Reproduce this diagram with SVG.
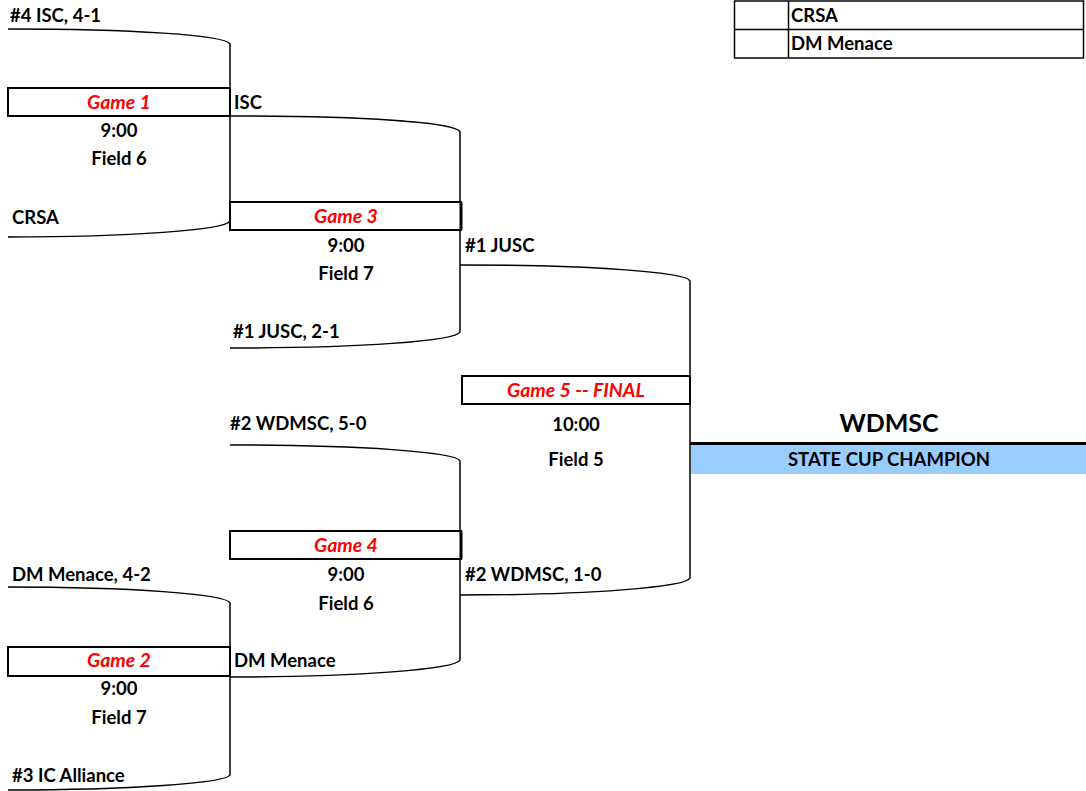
<svg xmlns="http://www.w3.org/2000/svg" width="1086" height="791" viewBox="0 0 1086 791">
<style>
text{font-family:Lato,"Open Sans","Liberation Sans",sans-serif;font-weight:bold;font-size:18.5px;fill:#000}
.c{text-anchor:middle}
.g{fill:#ff0000;font-style:italic;font-size:19.5px}
.br{fill:none;stroke:#000;stroke-width:1.5}
.box{fill:#fff;stroke:#000;stroke-width:2}
</style>
<rect width="1086" height="791" fill="#fff"/>
<g id="connectors">
<path class="br" d="M8,29 C130,29 226,35 230,44 L230,221 C226,230 130,237 8,237"/>
<path class="br" d="M230,116 C360,116 456,122 460,132 L460,332 C456,341 360,348 230,348"/>
<path class="br" d="M460,265 C590,265 686,272 690,281 L690,578 C686,587 590,595 460,595"/>
<path class="br" d="M230,445 C360,445 456,452 460,461 L460,660 C456,669 360,677 230,677"/>
<path class="br" d="M8,587 C130,587 226,594 230,603 L230,775 C226,783 130,790 8,790"/>
</g>
<g id="game1">
<rect class="box" x="8" y="88" width="222" height="28"/>
<text class="c g" x="119" y="109">Game 1</text>
<text class="c" x="119" y="137">9:00</text>
<text class="c" x="119" y="165">Field 6</text>
</g>
<g id="game3">
<rect class="box" x="230" y="202" width="231" height="28"/>
<line x1="461" y1="202" x2="461" y2="230" stroke="#000" stroke-width="3"/>
<text class="c g" x="346" y="223">Game 3</text>
<text class="c" x="346" y="252">9:00</text>
<text class="c" x="346" y="280">Field 7</text>
</g>
<g id="game5">
<rect class="box" x="462" y="376" width="228" height="28"/>
<text class="c g" x="576" y="397">Game 5 -- FINAL</text>
<text class="c" x="576" y="431">10:00</text>
<text class="c" x="576" y="466">Field 5</text>
</g>
<g id="game4">
<rect class="box" x="230" y="531" width="231" height="28"/>
<line x1="461" y1="531" x2="461" y2="559" stroke="#000" stroke-width="3"/>
<text class="c g" x="346" y="552">Game 4</text>
<text class="c" x="346" y="581">9:00</text>
<text class="c" x="346" y="610">Field 6</text>
</g>
<g id="game2">
<rect class="box" x="8" y="647" width="222" height="29"/>
<text class="c g" x="119" y="667">Game 2</text>
<text class="c" x="119" y="695">9:00</text>
<text class="c" x="119" y="724">Field 7</text>
</g>
<g id="teams">
<text x="10" y="22">#4 ISC, 4-1</text>
<text x="234" y="109">ISC</text>
<text x="12" y="224">CRSA</text>
<text x="465" y="252">#1 JUSC</text>
<text x="233" y="338">#1 JUSC, 2-1</text>
<text x="230" y="430">#2 WDMSC, 5-0</text>
<text x="465" y="581">#2 WDMSC, 1-0</text>
<text x="12" y="581">DM Menace, 4-2</text>
<text x="234" y="667">DM Menace</text>
<text x="12" y="782">#3 IC Alliance</text>
</g>
<g id="champion">
<rect x="691" y="445" width="395" height="29" fill="#99ccff"/>
<line x1="690" y1="443.5" x2="1086" y2="443.5" stroke="#000" stroke-width="3"/>
<text class="c" x="889" y="432" style="font-size:25px">WDMSC</text>
<text class="c" x="889" y="466">STATE CUP CHAMPION</text>
</g>
<g id="legend">
<rect x="734.5" y="1" width="349" height="57" fill="#fff" stroke="#000" stroke-width="1.5"/>
<line x1="734" y1="29.5" x2="1084" y2="29.5" stroke="#000" stroke-width="1.5"/>
<line x1="788.5" y1="1" x2="788.5" y2="58" stroke="#000" stroke-width="1.5"/>
<text x="791" y="22">CRSA</text>
<text x="791" y="50">DM Menace</text>
</g>
</svg>
